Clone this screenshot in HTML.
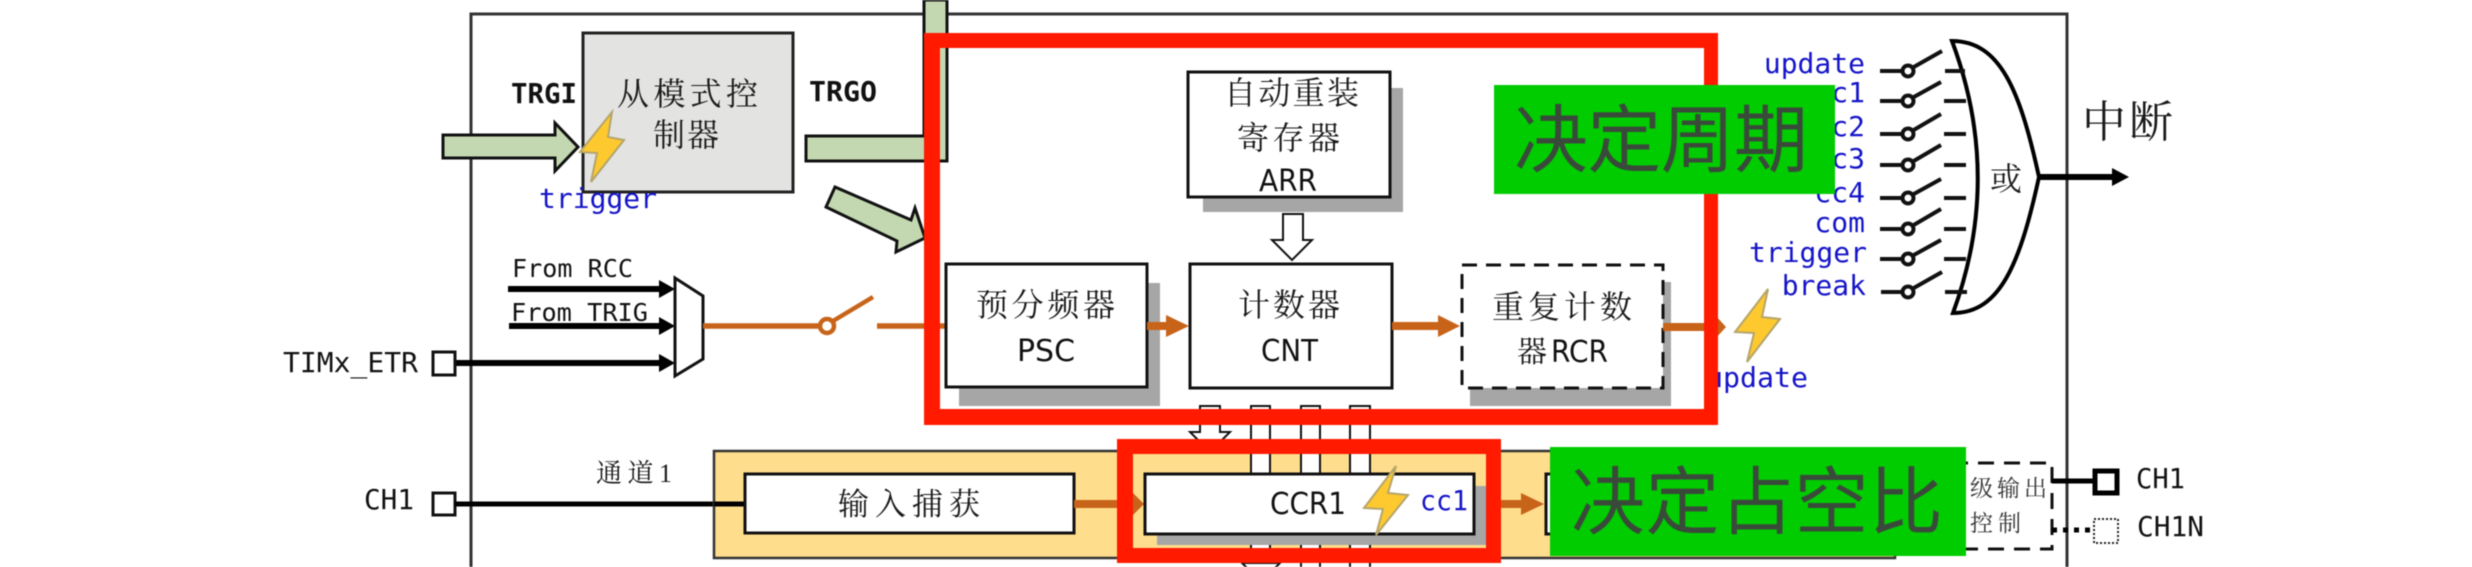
<!DOCTYPE html>
<html><head><meta charset="utf-8"><style>
html,body{margin:0;padding:0;background:#fff;width:2472px;height:567px;overflow:hidden}
svg{display:block;filter:blur(0.45px)}
.m{font-family:"DejaVu Sans Mono","Liberation Mono",monospace;font-size:28px;fill:#111}
.b{fill:#1414c8}
.s{font-family:"DejaVu Sans","Liberation Sans",sans-serif;font-size:30px;fill:#111}
.c{font-family:"Liberation Serif","Noto Serif CJK SC",serif;font-size:32px;fill:#1a1a1a}
.g{font-family:"Liberation Sans","Noto Sans CJK SC",sans-serif;font-size:74px;fill:#3a4a3a}
.org{fill:#c8641a}
.box{fill:#fff;stroke:#111;stroke-width:3}
.sh{fill:#a6a6a6}
.bolt{fill:#fdc92e;stroke:#b5a56b;stroke-width:2}
.gr{fill:#c3d8b0;stroke:#111;stroke-width:3}
.bus{fill:#fff;stroke:#111;stroke-width:2}
</style></head><body>
<svg width="2472" height="567" viewBox="0 0 2472 567" xmlns="http://www.w3.org/2000/svg">
<rect width="2472" height="567" fill="#fff"/>
<path d="M471 567V14H2067V567" fill="none" stroke="#333" stroke-width="3"/>

<!-- slave mode -->
<path class="gr" d="M806 136H924V0H947V161H806Z"/>
<rect x="583" y="33" width="210" height="159" fill="#e3e3e1" stroke="#222" stroke-width="3"/>
<text class="c" x="617" y="105" textLength="141" lengthAdjust="spacing">从模式控</text>
<text class="c" x="653" y="146" textLength="66" lengthAdjust="spacing">制器</text>
<text class="m" x="511" y="103" font-weight="bold" textLength="66" lengthAdjust="spacingAndGlyphs">TRGI</text>
<text class="m" x="809" y="101" font-weight="bold" textLength="68" lengthAdjust="spacingAndGlyphs">TRGO</text>
<path class="gr" d="M443 135H555V123L578 147L555 171V158H443Z"/>
<path class="gr" d="M835 187L826 207L897 241L896 252L925 238L915 208L911 220Z"/>
<polygon class="bolt" points="612,112 580,152 597,153 591,182 624,140 608,137"/>
<text class="m b" x="539" y="208" textLength="118" lengthAdjust="spacingAndGlyphs">trigger</text>

<!-- clock inputs -->
<text class="m" x="512" y="277" textLength="121" lengthAdjust="spacingAndGlyphs" style="font-size:25px">From RCC</text>
<text class="m" x="511" y="321" textLength="137" lengthAdjust="spacingAndGlyphs" style="font-size:25px">From TRIG</text>
<path d="M508 289H660M509 326H660M455 363H660" stroke="#000" stroke-width="6" fill="none"/>
<path d="M659 280L675 289L659 298ZM659 317L675 326L659 335ZM659 354L675 363L659 372Z" fill="#000"/>
<polygon points="675,278 703,296 703,359 675,376" fill="#fff" stroke="#111" stroke-width="3"/>
<path d="M703 326H818M877 326H946" stroke="#c8641a" stroke-width="5.5" fill="none"/>
<circle cx="827" cy="326" r="7" fill="#fff" stroke="#c8641a" stroke-width="4.5"/>
<path d="M833 321L873 297" stroke="#c8641a" stroke-width="4.5"/>
<text class="m" x="283" y="372" textLength="135" lengthAdjust="spacingAndGlyphs">TIMx_ETR</text>
<rect x="433" y="352" width="22" height="23" fill="#fff" stroke="#111" stroke-width="3"/>
<text class="m" x="364" y="509" textLength="50" lengthAdjust="spacingAndGlyphs">CH1</text>
<rect x="433" y="493" width="22" height="22" fill="#fff" stroke="#111" stroke-width="3"/>
<path d="M455 504H745" stroke="#000" stroke-width="5"/>
<text class="c" x="596" y="482" textLength="76" lengthAdjust="spacing" style="font-size:26px">通道1</text>

<!-- top register blocks -->
<rect class="sh" x="1203" y="88" width="200" height="124"/>
<rect class="box" x="1188" y="72" width="202" height="125"/>
<text class="c" x="1224" y="104" textLength="135" lengthAdjust="spacing">自动重装</text>
<text class="c" x="1237" y="149" textLength="103" lengthAdjust="spacing">寄存器</text>
<text class="s" x="1259" y="191" textLength="58" lengthAdjust="spacingAndGlyphs">ARR</text>
<polygon class="bus" points="1283,214 1303,214 1303,240 1312,240 1292,260 1272,240 1283,240"/>

<rect class="sh" x="959" y="283" width="201" height="123"/>
<rect class="box" x="946" y="264" width="201" height="123"/>
<text class="c" x="976" y="316" textLength="139" lengthAdjust="spacing">预分频器</text>
<text class="s" x="1017" y="361" textLength="58" lengthAdjust="spacingAndGlyphs">PSC</text>
<rect class="box" x="1190" y="264" width="202" height="124"/>
<text class="c" x="1238" y="316" textLength="102" lengthAdjust="spacing">计数器</text>
<text class="s" x="1261" y="361" textLength="57" lengthAdjust="spacingAndGlyphs">CNT</text>
<rect class="sh" x="1470" y="282" width="201" height="124"/>
<rect x="1462" y="265" width="201" height="123" fill="#fff" stroke="#111" stroke-width="3" stroke-dasharray="15 9"/>
<text class="c" x="1492" y="318" textLength="140" lengthAdjust="spacing">重复计数</text>
<text class="c" x="1517" y="362" style="font-size:30px">器</text>
<text class="s" x="1551" y="362" textLength="57" lengthAdjust="spacingAndGlyphs">RCR</text>
<path class="org" d="M1147 322H1166V315L1189 326L1166 337V330H1147ZM1392 322H1438V315L1460 326L1438 337V330H1392ZM1663 323H1716V316L1726 327L1716 338V331H1663Z"/>

<!-- interrupt column -->
<text class="m b" x="1865" y="73" text-anchor="end">update</text>
<text class="m b" x="1865" y="102" text-anchor="end">cc1</text>
<text class="m b" x="1865" y="136" text-anchor="end">cc2</text>
<text class="m b" x="1865" y="168" text-anchor="end">cc3</text>
<text class="m b" x="1865" y="202" text-anchor="end">cc4</text>
<text class="m b" x="1865" y="232" text-anchor="end">com</text>
<text class="m b" x="1867" y="262" text-anchor="end">trigger</text>
<text class="m b" x="1866" y="295" text-anchor="end">break</text>
<g fill="none" stroke="#111" stroke-width="4">
<path d="M1880 71H1903M1912 68L1942 51M1945 71H1967"/><circle cx="1908" cy="71" r="5.5" fill="#fff"/>
<path d="M1880 101H1903M1912 98L1941 82M1944 101H1966"/><circle cx="1908" cy="101" r="5.5" fill="#fff"/>
<path d="M1880 134H1903M1912 131L1941 114M1944 134H1966"/><circle cx="1908" cy="134" r="5.5" fill="#fff"/>
<path d="M1880 165H1903M1912 162L1941 145M1944 165H1966"/><circle cx="1908" cy="165" r="5.5" fill="#fff"/>
<path d="M1880 198H1903M1912 195L1941 179M1944 198H1966"/><circle cx="1908" cy="198" r="5.5" fill="#fff"/>
<path d="M1880 229H1903M1912 226L1941 209M1944 229H1966"/><circle cx="1908" cy="229" r="5.5" fill="#fff"/>
<path d="M1880 259H1903M1912 256L1941 240M1944 259H1966"/><circle cx="1908" cy="259" r="5.5" fill="#fff"/>
<path d="M1881 292H1903M1912 289L1942 272M1945 292H1967"/><circle cx="1908" cy="292" r="5.5" fill="#fff"/>
</g>
<path d="M1952 41Q2003 177 1953 313C2000 313 2020 264 2039 177C2020 90 2000 41 1952 41Z" fill="#fff" stroke="#000" stroke-width="4"/>
<path d="M1945 71H1965M1945 292H1967" stroke="#111" stroke-width="4"/>
<text class="c" x="1990" y="190">或</text>
<path d="M2039 177H2114" stroke="#000" stroke-width="6"/>
<path d="M2112 168L2129 177L2112 186Z" fill="#000"/>
<text class="c" x="2082" y="137" textLength="91" lengthAdjust="spacing" style="font-size:44px">中断</text>

<polygon class="bolt" points="1768,289 1735,332 1754,333 1747,362 1780,319 1762,317"/>
<text class="m b" x="1706" y="387" textLength="102" lengthAdjust="spacingAndGlyphs">update</text>

<!-- channel block -->
<rect x="714" y="451" width="1181" height="107" fill="#fedd8c" stroke="#333" stroke-width="2.5"/>
<path d="M745 504H714" stroke="#000" stroke-width="5"/>
<rect class="box" x="745" y="474" width="329" height="59"/>
<text class="c" x="838" y="515" textLength="142" lengthAdjust="spacing" style="font-size:31px">输入捕获</text>
<path class="org" d="M1074 500H1133V493L1144 504L1133 515V508H1074ZM1500 500H1521V493L1544 504L1521 515V508H1500Z"/>
<polygon class="bus" points="1200,406 1220,406 1220,432 1230,432 1210,452 1190,432 1200,432"/>
<rect class="bus" x="1251" y="406" width="19" height="170"/>
<rect class="bus" x="1301" y="406" width="19" height="170"/>
<rect class="bus" x="1350" y="406" width="20" height="170"/>
<polygon class="bus" points="1242,563 1280,563 1261,582"/>
<rect x="1546" y="474" width="40" height="60" fill="#fff" stroke="#111" stroke-width="3"/>
<rect class="sh" x="1157" y="486" width="329" height="59"/>
<rect class="box" x="1145" y="474" width="329" height="60"/>
<text class="s" x="1270" y="514" textLength="76" lengthAdjust="spacingAndGlyphs">CCR1</text>
<polygon class="bolt" points="1396,466 1364,508 1383,509 1376,535 1408,495 1388,493"/>
<text class="m b" x="1420" y="510" textLength="48" lengthAdjust="spacingAndGlyphs">cc1</text>

<!-- output -->
<rect x="1900" y="463" width="152" height="86" fill="#fff" stroke="#111" stroke-width="3" stroke-dasharray="16 10"/>
<text class="c" x="1970" y="496" textLength="77" lengthAdjust="spacing" style="font-size:23px;fill:#333">级输出</text>
<text class="c" x="1970" y="531" textLength="51" lengthAdjust="spacing" style="font-size:23px;fill:#333">控制</text>
<path d="M2052 481H2093" stroke="#000" stroke-width="5"/>
<rect x="2095" y="471" width="22" height="22" fill="#fff" stroke="#000" stroke-width="5"/>
<text class="m" x="2136" y="488" textLength="49" lengthAdjust="spacingAndGlyphs">CH1</text>
<path d="M2052 530H2093" stroke="#000" stroke-width="5" stroke-dasharray="5 6"/>
<rect x="2094" y="519" width="24" height="24" fill="#fff" stroke="#222" stroke-width="2" stroke-dasharray="2 2"/>
<text class="m" x="2137" y="536" textLength="67" lengthAdjust="spacingAndGlyphs">CH1N</text>

<!-- red frames -->
<path fill-rule="evenodd" fill="#ff1a00" d="M924 33H1718V425H924ZM940 48V409H1704V48Z"/>
<path fill-rule="evenodd" fill="#ff1a00" d="M1117 439H1501V563H1117ZM1133 454V548H1486V454Z"/>

<!-- green labels -->
<rect x="1494" y="85" width="341" height="109" fill="#00cc00"/>
<text class="g" x="1514" y="166" textLength="294" lengthAdjust="spacing">决定周期</text>
<rect x="1550" y="447" width="416" height="109" fill="#00cc00"/>
<text class="g" x="1571" y="528" textLength="372" lengthAdjust="spacing">决定占空比</text>
</svg>
</body></html>
